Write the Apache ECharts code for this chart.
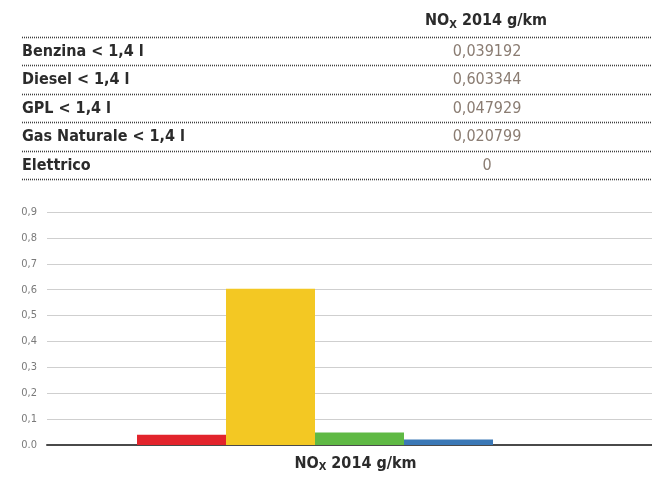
<!DOCTYPE html>
<html>
<head>
<meta charset="utf-8">
<title>NOx 2014 g/km</title>
<script src="https://cdn.jsdelivr.net/npm/echarts@6/dist/echarts.min.js"></script>
<style>
  html, body { margin: 0; padding: 0; background: #ffffff; }
  #chart { width: 652px; height: 477px; }
</style>
</head>
<body>
<div id="chart"></div>
<script>
// Fuel types and their NOx emissions (g/km, 2014)
const fuels = ['Benzina < 1,4 l', 'Diesel < 1,4 l', 'GPL < 1,4 l', 'Gas Naturale < 1,4 l', 'Elettrico'];
const noxValues = [0.039192, 0.603344, 0.047929, 0.020799, 0];
const fuelColors = ['#e2242c', '#f3c823', '#5fb944', '#3b78b6'];
const category = ['NOx 2014 g/km'];
const yTickLabels = ['0.0', '0,1', '0,2', '0,3', '0,4', '0,5', '0,6', '0,7', '0,8', '0,9'];

const FONT = '"DejaVu Sans Condensed", "Roboto", sans-serif';
const noxRich = {
  b: { fontFamily: FONT, fontWeight: 'bold', fontSize: 16, color: '#2b2b2b', fill: '#2b2b2b' },
  s: { fontFamily: FONT, fontWeight: 'bold', fontSize: 11, color: '#2b2b2b', fill: '#2b2b2b', padding: [8, 0, 0, 0] }
};
const noxTitle = '{b|NO}{s|X}{b| 2014 g/km}';

function fmtValue(v) {
  return v === 0 ? '0' : v.toFixed(6).replace('.', ',');
}

// Table above the bar chart
const tableLeft = 22, tableTop = 36.5, rowH = 28.5, valueX = 487;
const graphics = [];
graphics.push({
  type: 'text', left: valueX - 62, top: 13,
  style: { text: noxTitle, rich: noxRich }
});
for (let i = 0; i <= fuels.length; i++) {
  const y = Math.round(tableTop + rowH * i) + 0.5;
  graphics.push({
    type: 'line',
    shape: { x1: tableLeft, y1: y, x2: 652, y2: y },
    style: { stroke: '#3e3e3e', lineWidth: 1.6, lineDash: [1, 1] }
  });
}
fuels.forEach(function (name, i) {
  const cy = tableTop + rowH * i + rowH / 2 + 1;
  graphics.push({
    type: 'text', x: tableLeft, y: cy,
    style: { text: name, fontFamily: FONT, fontWeight: 'bold', fontSize: 16,
             fill: '#2b2b2b', verticalAlign: 'middle', align: 'left' }
  });
  graphics.push({
    type: 'text', x: valueX, y: cy,
    style: { text: fmtValue(noxValues[i]), fontFamily: FONT, fontSize: 16,
             fill: '#8a7c72', verticalAlign: 'middle', align: 'center' }
  });
});

const series = fuels.map(function (name, i) {
  return {
    name: name,
    type: 'bar',
    data: [noxValues[i]],
    barWidth: 89,
    barGap: '0%',
    itemStyle: { color: fuelColors[i] || '#999999' },
    silent: true
  };
});

const chart = echarts.init(document.getElementById('chart'), null, { renderer: 'canvas' });
chart.setOption({
  backgroundColor: '#ffffff',
  animation: false,
  // the plot runs past the right edge, so the bar group sits right of centre
  grid: { left: 47, width: 625, top: 212, bottom: 32, containLabel: false, outerBoundsMode: 'none' },
  xAxis: {
    type: 'category',
    data: category,
    axisLine: { show: true, lineStyle: { color: '#4a4a4a', width: 2 } },
    axisTick: { show: false },
    axisLabel: {
      margin: 9,
      padding: [0, 8, 0, 0],
      formatter: function () { return noxTitle; },
      rich: noxRich
    }
  },
  yAxis: {
    type: 'value',
    min: 0, max: 0.9, interval: 0.1,
    axisLine: { show: false },
    axisTick: { show: false },
    splitLine: { lineStyle: { color: '#cfcfcf', width: 1 } },
    axisLabel: {
      margin: 10,
      fontFamily: FONT, fontSize: 11, color: '#7a7a7a',
      formatter: function (v) { return yTickLabels[Math.round(v * 10)]; }
    }
  },
  graphic: graphics,
  series: series
});
</script>
</body>
</html>
